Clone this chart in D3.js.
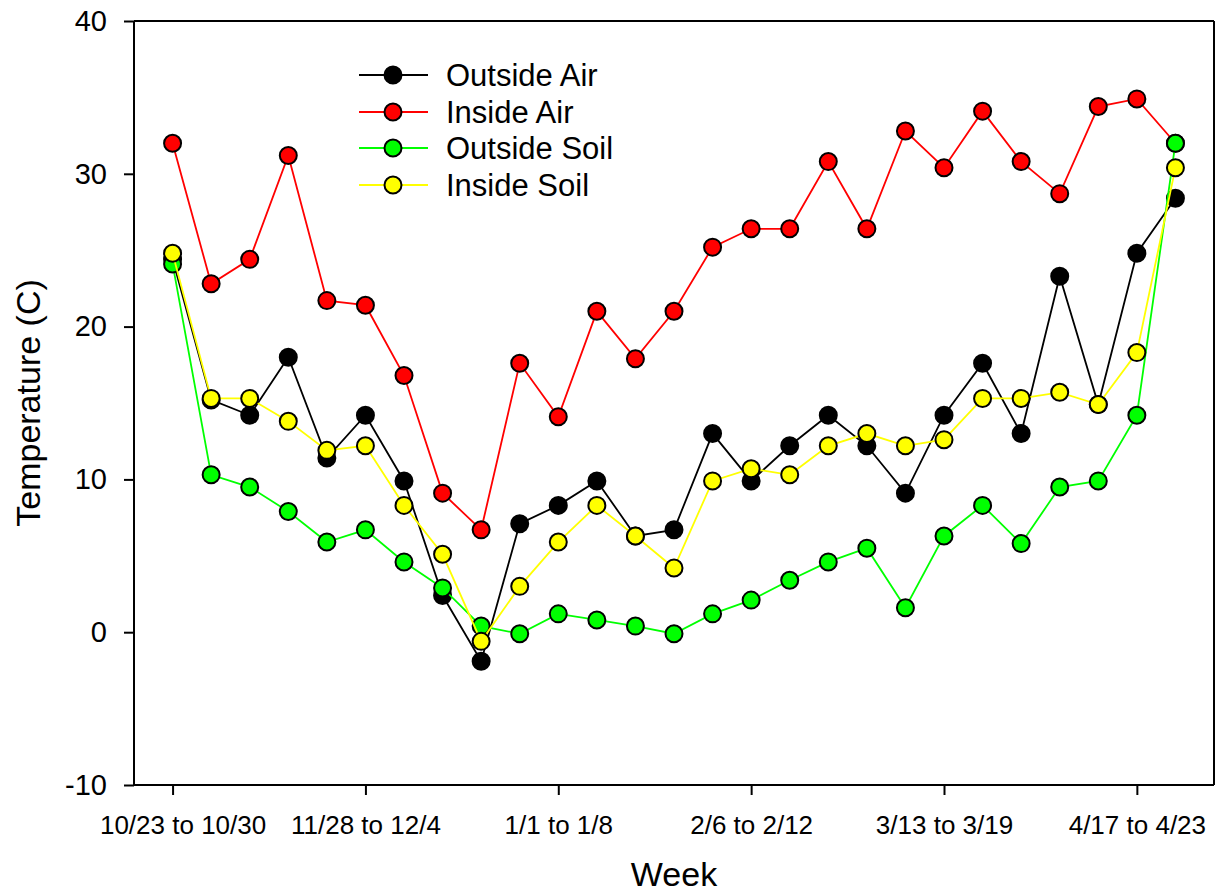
<!DOCTYPE html>
<html>
<head>
<meta charset="utf-8">
<script src="https://cdn.jsdelivr.net/npm/d3@7"></script>
<style>
  html, body { margin: 0; padding: 0; background: #fff; }
  svg { display: block; font-family: Arial, "Liberation Sans", sans-serif; }
</style>
</head>
<body>
<svg id="chart" width="1220" height="896"></svg>
<script>
// ---- data ----
const weekIndex = d3.range(27);
const tickIndices = [0, 5, 10, 15, 20, 25];
const tickLabels = ["10/23 to 10/30", "11/28 to 12/4", "1/1 to 1/8", "2/6 to 2/12", "3/13 to 3/19", "4/17 to 4/23"];
const yTicks = [-10, 0, 10, 20, 30, 40];

const outsideAir  = [24.4, 15.2, 14.2, 18.0, 11.4, 14.2, 9.9, 2.4, -1.9, 7.1, 8.3, 9.9, 6.3, 6.7, 13.0, 9.9, 12.2, 14.2, 12.2, 9.1, 14.2, 17.6, 13.0, 23.3, 14.9, 24.8, 28.4];
const insideAir   = [32.0, 22.8, 24.4, 31.2, 21.7, 21.4, 16.8, 9.1, 6.7, 17.6, 14.1, 21.0, 17.9, 21.0, 25.2, 26.4, 26.4, 30.8, 26.4, 32.8, 30.4, 34.1, 30.8, 28.7, 34.4, 34.9, 32.0];
const outsideSoil = [24.1, 10.3, 9.5, 7.9, 5.9, 6.7, 4.6, 2.9, 0.4, -0.1, 1.2, 0.8, 0.4, -0.1, 1.2, 2.1, 3.4, 4.6, 5.5, 1.6, 6.3, 8.3, 5.8, 9.5, 9.9, 14.2, 32.0];
const insideSoil  = [24.8, 15.3, 15.3, 13.8, 11.9, 12.2, 8.3, 5.1, -0.6, 3.0, 5.9, 8.3, 6.3, 4.2, 9.9, 10.7, 10.3, 12.2, 13.0, 12.2, 12.6, 15.3, 15.3, 15.7, 14.9, 18.3, 30.4];

const seriesNames  = ["Outside Air", "Inside Air", "Outside Soil", "Inside Soil"];
const seriesValues = [outsideAir, insideAir, outsideSoil, insideSoil];
const seriesColors = ["#000000", "#ff0000", "#00ff00", "#ffff00"];

// ---- layout ----
const plotL = 134, plotR = 1214, plotT = 21, plotB = 785;
const svg = d3.select("#chart");

const x = d3.scaleLinear().domain([-1, 27]).range([plotL, plotR]);
const y = d3.scaleLinear().domain([-10, 40]).range([plotB, plotT]);

// frame (top and right)
svg.append("line").attr("x1", plotL).attr("x2", plotR).attr("y1", plotT).attr("y2", plotT)
  .attr("stroke", "#000").attr("stroke-width", 2);
svg.append("line").attr("x1", plotR).attr("x2", plotR).attr("y1", plotT).attr("y2", plotB)
  .attr("stroke", "#000").attr("stroke-width", 2);

// y axis
const yAxis = svg.append("g").attr("transform", `translate(${plotL},0)`)
  .call(d3.axisLeft(y).tickValues(yTicks).tickSize(10).tickPadding(17).tickFormat(d => String(d)));
yAxis.select(".domain").attr("stroke-width", 2).attr("d", `M0,${plotT}V${plotB}`);
yAxis.selectAll(".tick line").attr("stroke-width", 2);
yAxis.selectAll(".tick text").attr("font-size", 29).attr("fill", "#000")
  .attr("font-family", "Arial, 'Liberation Sans', sans-serif");

// x axis
const xAxis = svg.append("g").attr("transform", `translate(0,${plotB})`)
  .call(d3.axisBottom(x).tickValues(tickIndices).tickSize(10).tickPadding(21)
    .tickFormat((d, i) => tickLabels[i]));
xAxis.select(".domain").attr("stroke-width", 2).attr("d", `M${plotL},0H${plotR}`);
xAxis.selectAll(".tick line").attr("stroke-width", 2);
xAxis.selectAll(".tick text").attr("font-size", 26).attr("fill", "#000")
  .attr("font-family", "Arial, 'Liberation Sans', sans-serif")
  .attr("dx", (d, i) => i === 0 ? 10 : 0);

// axis titles
svg.append("text").attr("x", (plotL + plotR) / 2).attr("y", 886)
  .attr("text-anchor", "middle").attr("font-size", 34).text("Week");
svg.append("text").attr("transform", `translate(40,${(plotT + plotB) / 2}) rotate(-90)`)
  .attr("text-anchor", "middle").attr("font-size", 34).text("Temperature (C)");

// series
const line = d3.line().x((d, i) => x(weekIndex[i])).y(d => y(d));
seriesValues.forEach((vals, s) => {
  const g = svg.append("g");
  g.append("path").datum(vals).attr("d", line)
    .attr("fill", "none").attr("stroke", seriesColors[s]).attr("stroke-width", 1.8);
  g.selectAll("circle").data(vals).join("circle")
    .attr("cx", (d, i) => x(weekIndex[i])).attr("cy", d => y(d)).attr("r", 8.5)
    .attr("fill", seriesColors[s]).attr("stroke", "#000").attr("stroke-width", 2);
});

// legend
const legend = svg.append("g");
const legY = [75, 112, 148, 185];
seriesNames.forEach((name, s) => {
  const ly = legY[s];
  legend.append("line").attr("x1", 359).attr("x2", 428).attr("y1", ly).attr("y2", ly)
    .attr("stroke", seriesColors[s]).attr("stroke-width", 1.8);
  legend.append("circle").attr("cx", 393).attr("cy", ly).attr("r", 8.5)
    .attr("fill", seriesColors[s]).attr("stroke", "#000").attr("stroke-width", 2);
  legend.append("text").attr("x", 446).attr("y", ly).attr("dy", "0.36em")
    .attr("font-size", 31).text(name);
});
</script>
</body>
</html>
